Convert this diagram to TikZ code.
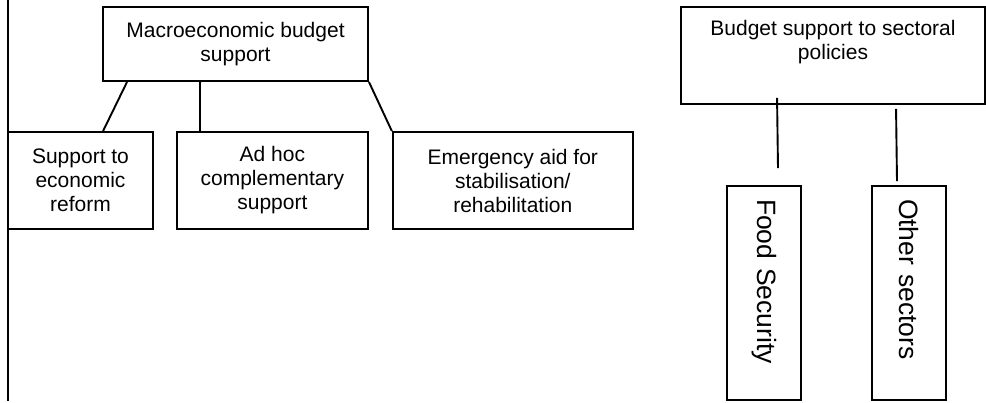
\documentclass[tikz,border=0pt]{standalone}
\usepackage{fontspec}
\setmainfont{Liberation Sans}
\usetikzlibrary{positioning}

\begin{document}
\begin{tikzpicture}[x=1pt,y=-1pt,line width=1.9pt,
                    box/.style={draw,rectangle,inner sep=0pt,align=center,
                                font=\fontsize{21}{24}\selectfont},
                    side/.style={box,rotate=-90,minimum width=214pt,minimum height=74pt,
                                 text width=188pt,align=left,
                                 font=\fontsize{26.5}{30}\selectfont}]
  \useasboundingbox (0,0) rectangle (986,402);

  \node[box,minimum width=265pt,minimum height=74pt] (M) at (235.5,44) {Macroeconomic budget\\support};
  \node[box,minimum width=145pt,minimum height=97pt] (S) at (80.5,180.5) {Support to\\economic\\reform};
  \node[box,minimum width=191pt,minimum height=97pt] (A) [right=22pt of S] {Ad hoc\\complementary\\support};
  \node[box,minimum width=240pt,minimum height=97pt] (E) [right=23pt of A] {Emergency aid for\\stabilisation/\\rehabilitation};

  \node[box,minimum width=304pt,minimum height=97pt,
        label={[anchor=north,yshift=-13pt,inner sep=0pt,align=center,
                font=\fontsize{21}{24}\selectfont]north:Budget support to sectoral\\policies}]
        (B) at (833,55.5) {};
  \node[side] (F) at (764,293) {Food Security};
  \node[side] (O) at (909,293) {Other sectors};

  \draw (8,0) -- (8,401);

  \draw ([xshift=25pt]M.south west) -- ([xshift=96pt]S.north west);
  \draw ([xshift=98pt]M.south west) -- ([xshift=24pt]A.north west);
  \draw (M.south east) -- (E.north west);
  \draw ([shift={(97pt,7pt)}]B.south west) -- ([shift={(14pt,17pt)}]F.west);
  \draw ([shift={(216pt,-4pt)}]B.south west) -- ([shift={(-12pt,4pt)}]O.west);
\end{tikzpicture}
\end{document}
